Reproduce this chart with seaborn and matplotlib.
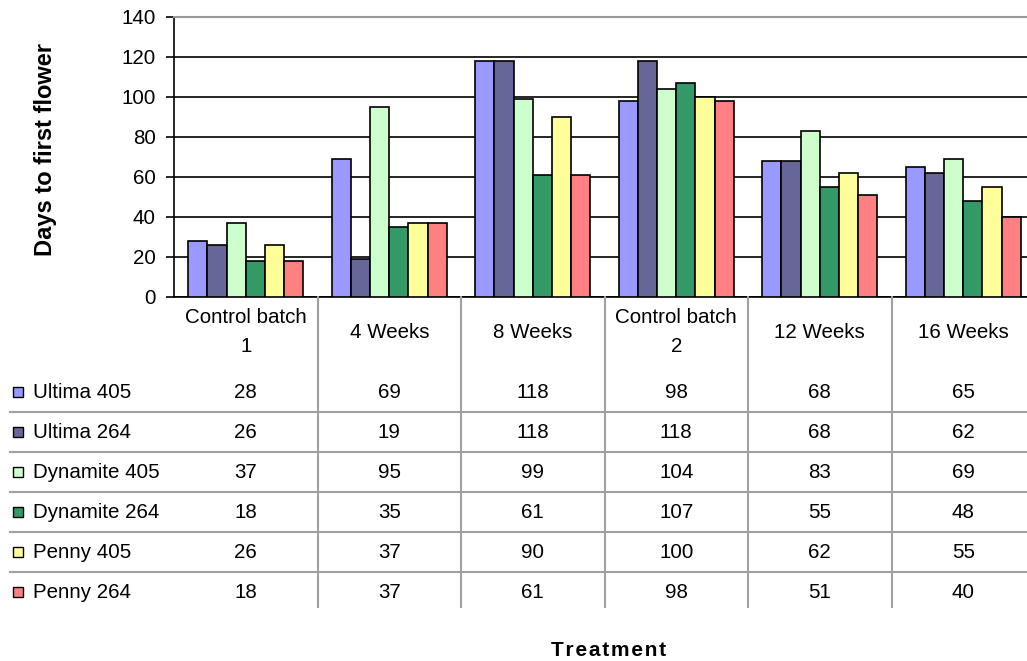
import matplotlib
matplotlib.use("Agg")
import matplotlib.pyplot as plt
from matplotlib.patches import Rectangle
from matplotlib.lines import Line2D
from matplotlib.transforms import blended_transform_factory
import seaborn as sns
import pandas as pd

# Treatments (x categories) and the six cultivar/line series
treatments = ["Control batch\n1", "4 Weeks", "8 Weeks", "Control batch\n2", "12 Weeks", "16 Weeks"]
series_names = ["Ultima 405", "Ultima 264", "Dynamite 405", "Dynamite 264", "Penny 405", "Penny 264"]

ultima_405 = [28, 69, 118, 98, 68, 65]
ultima_264 = [26, 19, 118, 118, 68, 62]
dynamite_405 = [37, 95, 99, 104, 83, 69]
dynamite_264 = [18, 35, 61, 107, 55, 48]
penny_405 = [26, 37, 90, 100, 62, 55]
penny_264 = [18, 37, 61, 98, 51, 40]

series_values = [ultima_405, ultima_264, dynamite_405, dynamite_264, penny_405, penny_264]
colors = ["#9999FF", "#666699", "#CCFFCC", "#339966", "#FFFF99", "#FF8080"]
y_ticks = [0, 20, 40, 60, 80, 100, 120, 140]

rows = []
for name, vals in zip(series_names, series_values):
    for t, v in zip(treatments, vals):
        rows.append({"Treatment": t, "Series": name, "Days": v})
df = pd.DataFrame(rows)

W, H = 1027, 661
FS = 14.8
plt.rcParams["font.family"] = ["Liberation Sans", "DejaVu Sans"]
fig = plt.figure(figsize=(W / 100, H / 100), dpi=100)
fig.patch.set_facecolor("white")

# plot area in pixel terms
x0, x1 = 174, 1035
y_top, y_bot = 17, 297
ax = fig.add_axes([x0 / W, 1 - y_bot / H, (x1 - x0) / W, (y_bot - y_top) / H])

sns.barplot(data=df, x="Treatment", y="Days", hue="Series", order=treatments,
            hue_order=series_names, palette=colors, width=0.8, gap=0,
            edgecolor="black", linewidth=1.2, saturation=1, legend=False,
            errorbar=None, ax=ax, zorder=3)

ax.set_ylim(0, 140)
ax.set_xlim(-0.5, len(treatments) - 0.5)
ax.set_yticks(y_ticks)
ax.set_yticklabels([str(t) for t in y_ticks], fontsize=FS)
ax.tick_params(axis="y", length=6, width=1.2, direction="out", pad=7, color="black")
ax.set_xticks([])
ax.set_xlabel("")
ax.set_ylabel("")
ax.yaxis.grid(True, color="black", linewidth=1.2, zorder=0)
ax.set_axisbelow(True)
ax.spines["right"].set_visible(False)
ax.spines["top"].set_color("#999999")
ax.spines["top"].set_linewidth(1.5)
ax.spines["left"].set_linewidth(1.2)
ax.spines["bottom"].set_linewidth(1.2)


def fy(py):
    return 1 - py / H


def fx(px):
    return px / W


# data table under the chart
btf = blended_transform_factory(ax.transData, fig.transFigure)
row_y = [392, 432, 472, 512, 552, 592]
sep_y = [411.5, 451.5, 491.5, 531.5, 571.5]
grey = "#A0A0A0"

for i, t in enumerate(treatments):
    fig.text(i, fy(332), t, transform=btf, ha="center", va="center",
             fontsize=FS, linespacing=1.62)
    for r, vals in enumerate(series_values):
        fig.text(i, fy(row_y[r]), str(vals[i]), transform=btf, ha="center",
                 va="center", fontsize=FS)

for b in range(1, len(treatments)):
    fig.add_artist(Line2D([b - 0.5, b - 0.5], [fy(297), fy(607)], transform=btf,
                          color=grey, linewidth=1.5))
for sy in sep_y:
    fig.add_artist(Line2D([fx(10), 1.0], [fy(sy), fy(sy)], transform=fig.transFigure,
                          color=grey, linewidth=1.5))

for r, (name, c) in enumerate(zip(series_names, colors)):
    fig.add_artist(Rectangle((fx(13), fy(row_y[r] + 5)), 10 / W, 10 / H,
                             transform=fig.transFigure, facecolor=c,
                             edgecolor="black", linewidth=1.0))
    fig.text(fx(33), fy(row_y[r]), name, ha="left", va="center", fontsize=FS)

# axis titles
hair = "\u200a"
fig.text(fx(609), fy(651), hair.join("Treatment"), ha="center", va="center",
         fontsize=15, fontweight="bold")
fig.text(fx(46), fy(149), "Days to first flower", ha="center", va="center",
         rotation=90, fontsize=17, fontweight="bold")

fig.savefig("out.png", dpi=100, facecolor="white")
